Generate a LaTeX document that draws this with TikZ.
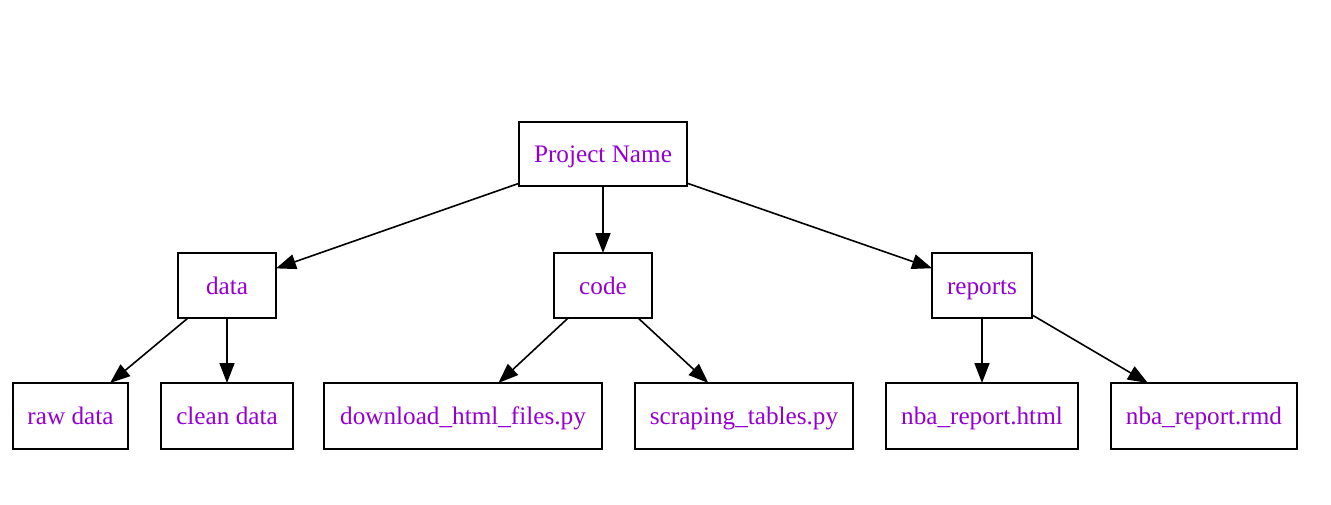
\documentclass[tikz,border=0pt]{standalone}
\usepackage{fontspec}
\setmainfont{Liberation Serif}
\usetikzlibrary{arrows.meta}
\definecolor{lbl}{RGB}{148,0,211}
\tikzset{
  box/.style={draw=black, line width=1.6pt, rectangle, inner sep=0pt, outer sep=0pt,
    text=lbl, font=\fontsize{25.2}{30}\selectfont, minimum height=65pt,
    text height=17pt, text depth=0pt},
  edge/.style={draw=black, line width=1.6pt, -{Triangle[length=20pt,width=15pt]}}
}
\begin{document}
\begin{tikzpicture}[x=1pt,y=-1pt]
\useasboundingbox (0,0) rectangle (1331,504);
\node[box, minimum width=168pt, minimum height=64pt] (p) at (603,154) {Project Name};
\node[box, minimum width=98pt] (d) at (227,285.5) {data};
\node[box, minimum width=98pt] (c) at (603,285.5) {code};
\node[box, minimum width=100pt] (r) at (982,285.5) {reports};
\node[box, minimum width=115pt, minimum height=66pt] (rd) at (70.5,416) {raw data};
\node[box, minimum width=132pt, minimum height=66pt] (cd) at (227,416) {clean data};
\node[box, minimum width=278pt, minimum height=66pt] (dl) at (463,416) {download\_html\_files.py};
\node[box, minimum width=218pt, minimum height=66pt] (st) at (744,416) {scraping\_tables.py};
\node[box, minimum width=192pt, minimum height=66pt] (nh) at (982,416) {nba\_report.html};
\node[box, minimum width=186pt, minimum height=66pt] (nr) at (1204,416) {nba\_report.rmd};
\draw[edge] (p) -- (d);
\draw[edge] (p) -- (c);
\draw[edge] (p) -- (r);
\draw[edge] (d) -- (rd);
\draw[edge] (d) -- (cd);
\draw[edge] (c) -- (dl);
\draw[edge] (c) -- (st);
\draw[edge] (r) -- (nh);
\draw[edge] (r) -- (nr);
\end{tikzpicture}
\end{document}
